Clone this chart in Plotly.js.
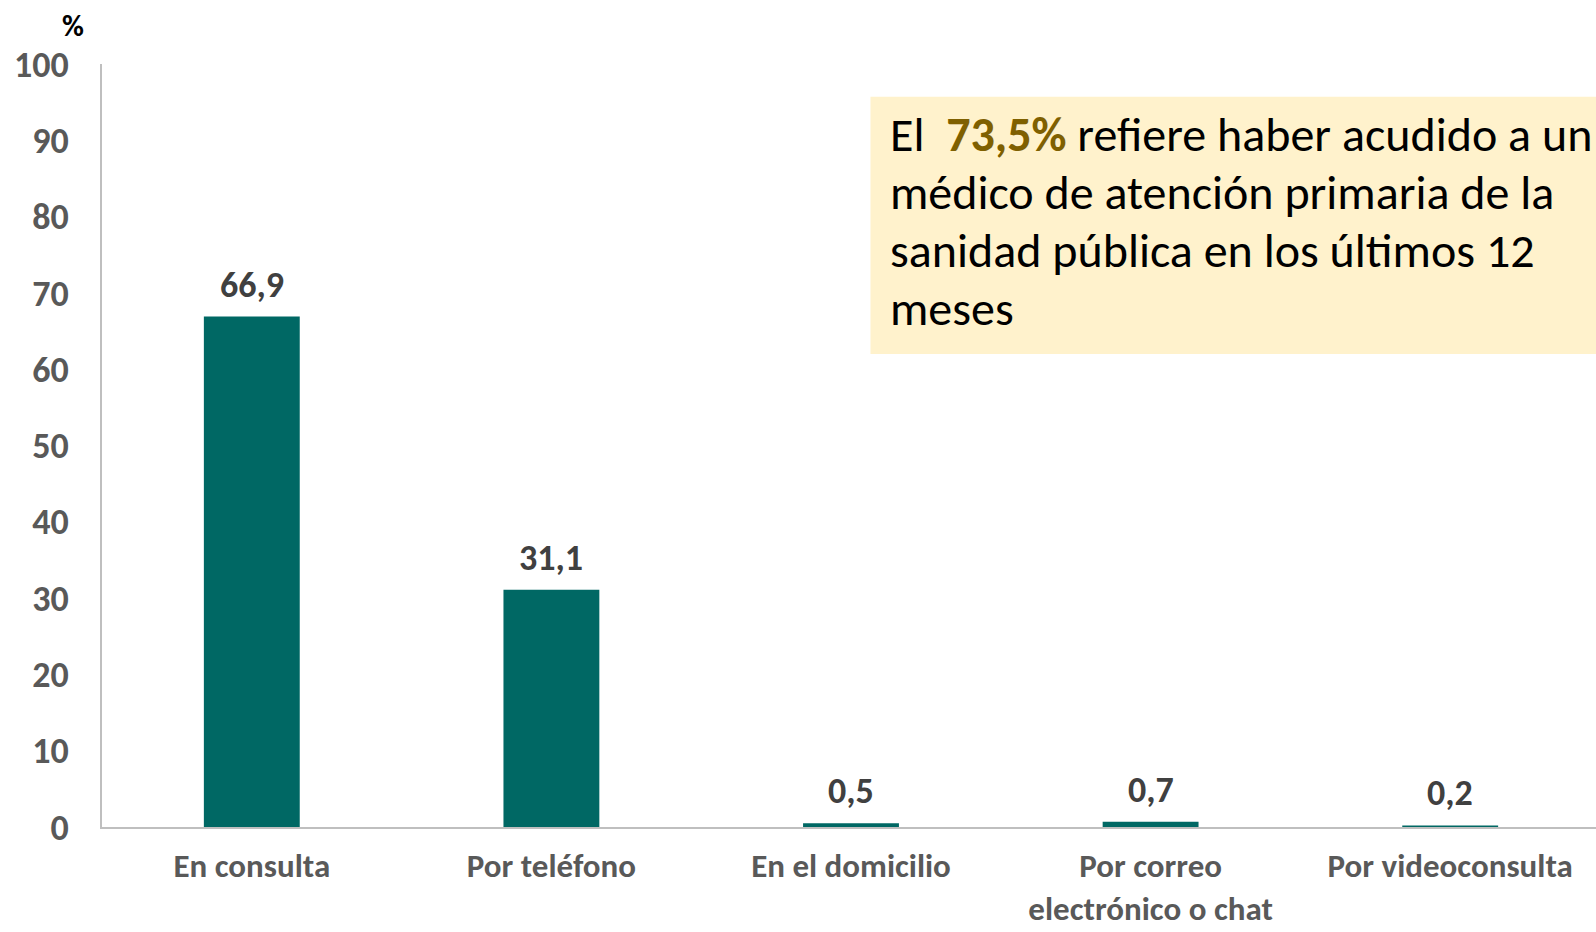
<!DOCTYPE html>
<html>
<head>
<meta charset="utf-8">
<script src="https://cdn.plot.ly/plotly-3.0.1.min.js"></script>
<style>
  body { margin: 0; background: #fff; overflow: hidden; }
  #chart { width: 1600px; height: 932px; }
</style>
</head>
<body>
<div id="chart"></div>
<script>
// categories and values (%)
const categories = ["En consulta", "Por teléfono", "En el domicilio", "Por correo<br>electrónico o chat", "Por videoconsulta"];
const values = [66.9, 31.1, 0.5, 0.7, 0.2];
const yTicks = [0, 10, 20, 30, 40, 50, 60, 70, 80, 90, 100];
const noteLines = [
  "El&nbsp; <span style='color:#7F6000'><b>73,5%</b></span> refiere haber acudido a un",
  "médico de atención primaria de la",
  "sanidad pública en los últimos 12",
  "meses"
];

const FONT = "Carlito, 'Liberation Sans Narrow', 'Liberation Sans', sans-serif";
const fmt = v => v.toFixed(1).replace(".", ",");

window.onload = function () {
  let trace = {
    x: categories,
    y: values,
    type: "bar",
    marker: { color: "#006864" },
    hoverinfo: "skip"
  };

  // value labels above bars
  let labels = categories.map((c, i) => ({
    x: c, y: values[i], xref: "x", yref: "y",
    text: "<b>" + fmt(values[i]) + "</b>",
    showarrow: false, yanchor: "bottom", yshift: 8,
    font: { family: FONT, size: 36, color: "#404040" }
  }));

  // the note, one annotation per line
  let notes = noteLines.map((t, i) => ({
    x: 0.525, y: 0.907 - i * 0.0757, xref: "paper", yref: "paper",
    xanchor: "left", yanchor: "middle", align: "left",
    text: t, showarrow: false,
    font: { family: FONT, size: 48, color: "#000" }
  }));

  let unit = {
    x: -0.0194, y: 1.05, xref: "paper", yref: "paper",
    xanchor: "center", yanchor: "middle",
    text: "<b>%</b>", showarrow: false,
    font: { family: FONT, size: 30, color: "#000" }
  };

  let layout = {
    width: 1600, height: 932,
    margin: { l: 102, r: 0, t: 64, b: 105 },
    paper_bgcolor: "#fff", plot_bgcolor: "#fff",
    bargap: 0.68,
    showlegend: false,
    xaxis: {
      showline: true, linecolor: "#BFBFBF", linewidth: 2,
      ticks: "", showgrid: false,
      tickfont: { family: FONT, size: 33, color: "#595959", weight: "bold" },
      ticklabelstandoff: 8
    },
    yaxis: {
      range: [0, 100], tickvals: yTicks,
      showline: true, linecolor: "#BFBFBF", linewidth: 2,
      ticks: "", showgrid: false, zeroline: false,
      tickfont: { family: FONT, size: 36, color: "#595959", weight: "bold" },
      ticklabelstandoff: 24
    },
    shapes: [{
      type: "rect", xref: "paper", yref: "paper",
      x0: 0.513, x1: 1.1, y0: 0.620, y1: 0.957,
      fillcolor: "#FFF2CC", line: { width: 0 }, layer: "below"
    }],
    annotations: labels.concat(notes, [unit])
  };

  Plotly.newPlot("chart", [trace], layout, { displayModeBar: false, staticPlot: true });
};
</script>
</body>
</html>
